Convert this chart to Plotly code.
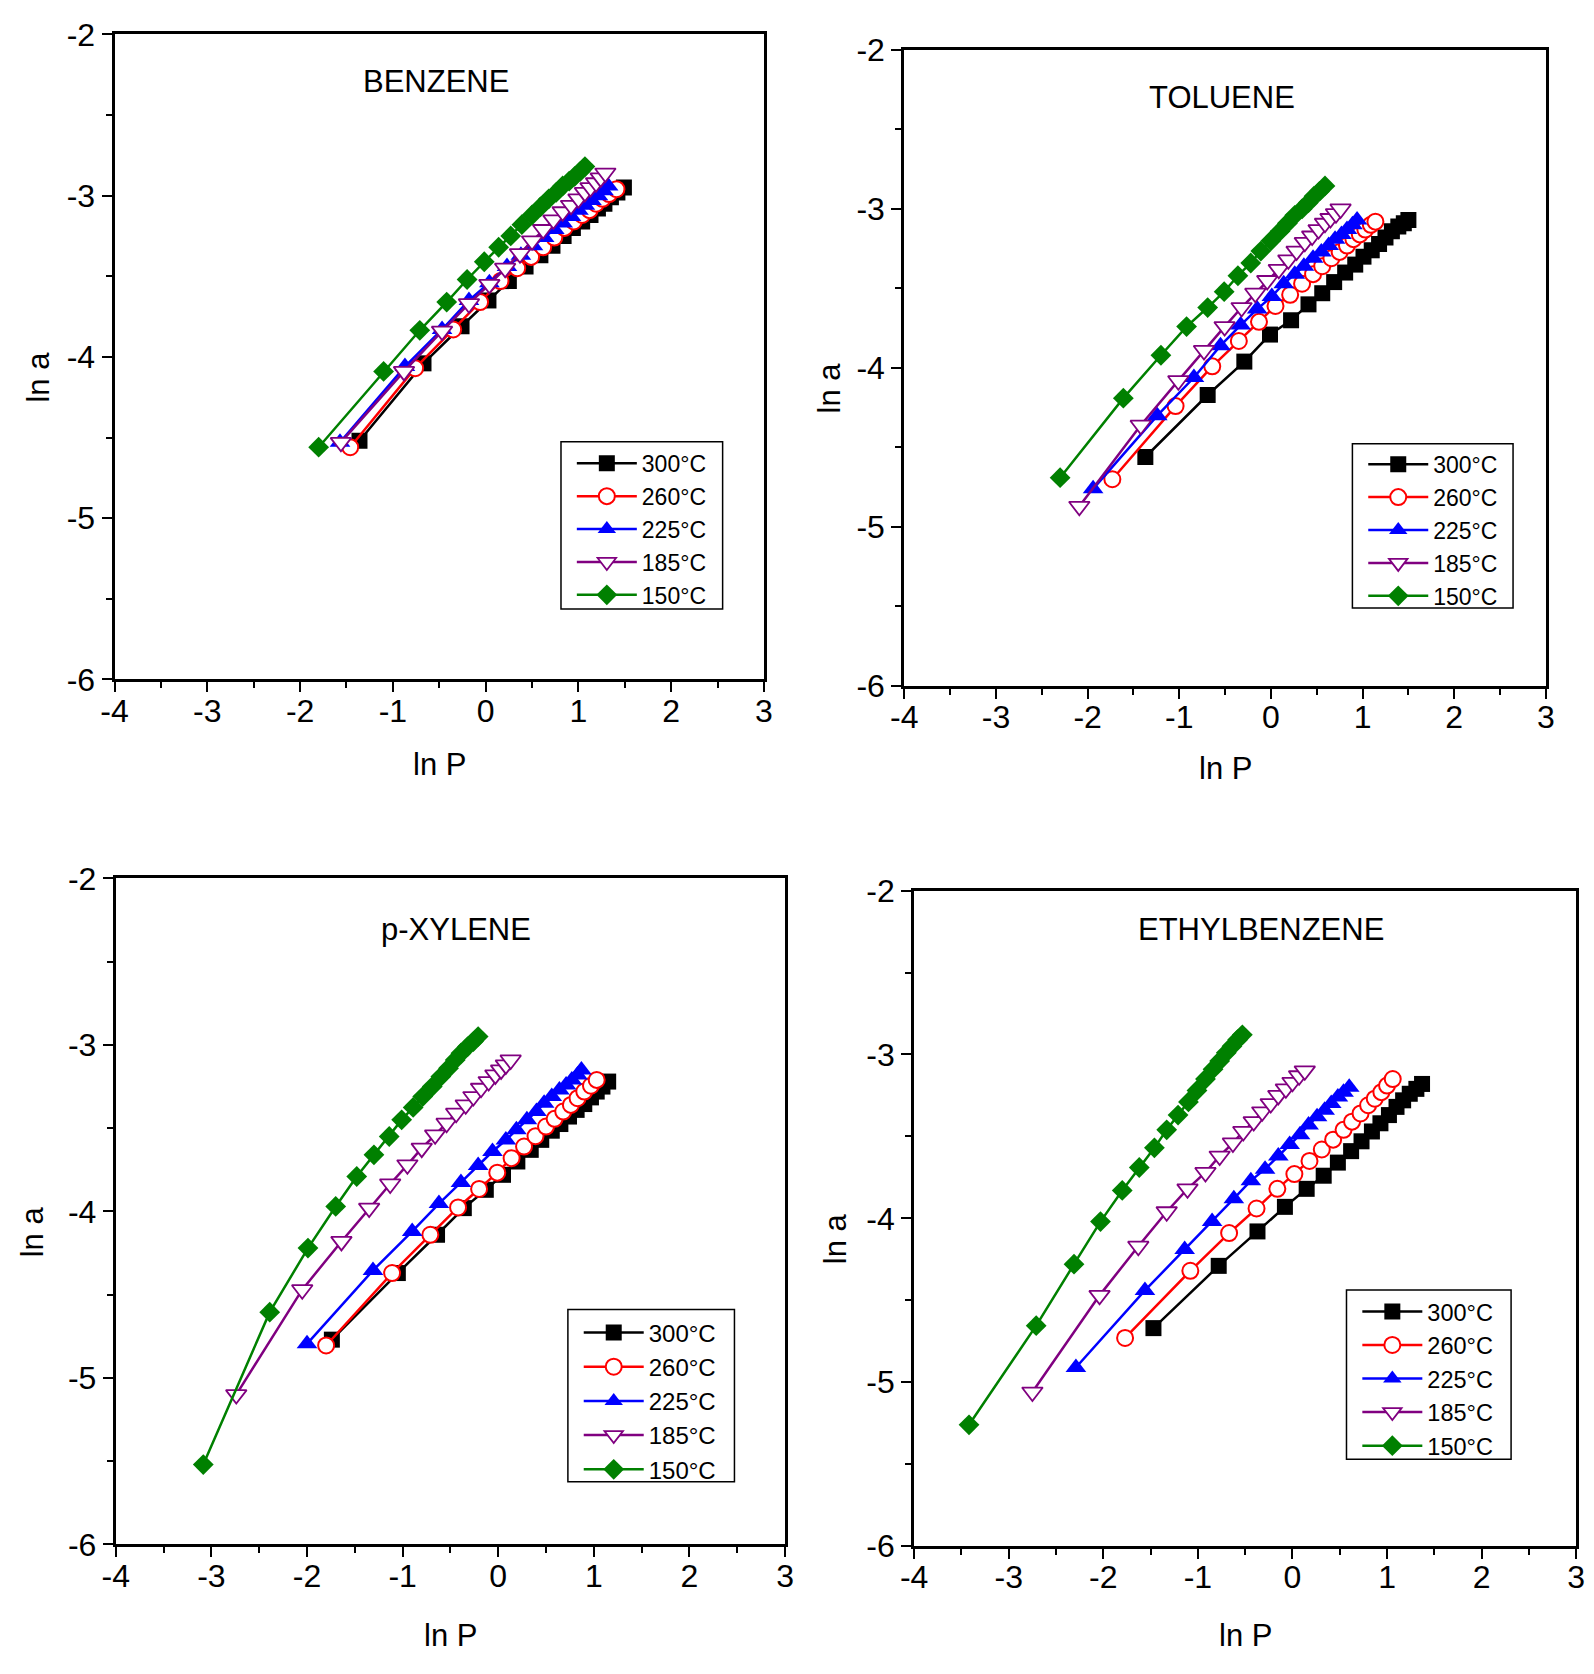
import plotly.graph_objects as go

FONT = "Liberation Sans, Arial, sans-serif"

temps = ["300°C", "260°C", "225°C", "185°C", "150°C"]
colors = ["#000000", "#FF0000", "#0000FF", "#800080", "#008000"]

x_tick_vals = [-4, -3, -2, -1, 0, 1, 2, 3]
x_tick_text = ["-4", "-3", "-2", "-1", "0", "1", "2", "3"]
y_tick_vals = [-6, -5, -4, -3, -2]
y_tick_text = ["-6", "-5", "-4", "-3", "-2"]

panel_titles = ["BENZENE", "TOLUENE", "p-XYLENE", "ETHYLBENZENE"]

# ---------------- BENZENE ----------------
bz_300_lnP = [-1.36, -0.67, -0.26, 0.03, 0.25, 0.43, 0.59, 0.72, 0.84, 0.94, 1.04, 1.13, 1.21, 1.28, 1.35, 1.42, 1.49]
bz_300_lna = [-4.52, -4.04, -3.81, -3.65, -3.53, -3.44, -3.37, -3.31, -3.25, -3.20, -3.16, -3.12, -3.08, -3.05, -3.01, -2.98, -2.95]
bz_260_lnP = [-1.46, -0.76, -0.35, -0.06, 0.16, 0.34, 0.49, 0.62, 0.74, 0.85, 0.95, 1.04, 1.12, 1.19, 1.26, 1.33, 1.41]
bz_260_lna = [-4.56, -4.07, -3.83, -3.66, -3.53, -3.45, -3.38, -3.32, -3.26, -3.20, -3.16, -3.12, -3.09, -3.05, -3.02, -2.99, -2.96]
bz_225_lnP = [-1.57, -0.87, -0.47, -0.18, 0.04, 0.23, 0.38, 0.51, 0.63, 0.74, 0.83, 0.92, 1.00, 1.07, 1.14, 1.21, 1.27, 1.32]
bz_225_lna = [-4.53, -4.06, -3.83, -3.65, -3.54, -3.44, -3.37, -3.31, -3.26, -3.21, -3.17, -3.13, -3.09, -3.06, -3.03, -3.00, -2.97, -2.94]
bz_185_lnP = [-1.56, -0.88, -0.47, -0.18, 0.04, 0.21, 0.37, 0.50, 0.62, 0.73, 0.83, 0.92, 1.00, 1.07, 1.13, 1.19, 1.24, 1.29]
bz_185_lna = [-4.53, -4.09, -3.84, -3.67, -3.55, -3.45, -3.36, -3.28, -3.21, -3.15, -3.10, -3.06, -3.02, -2.98, -2.95, -2.92, -2.89, -2.86]
bz_150_lnP = [-1.80, -1.10, -0.71, -0.42, -0.20, -0.015, 0.14, 0.27, 0.39, 0.50, 0.59, 0.68, 0.76, 0.83, 0.90, 0.96, 1.02, 1.07]
bz_150_lna = [-4.56, -4.09, -3.835, -3.66, -3.52, -3.41, -3.32, -3.25, -3.18, -3.12, -3.07, -3.02, -2.98, -2.94, -2.91, -2.88, -2.85, -2.82]

# ---------------- TOLUENE ----------------
tl_300_lnP = [-1.37, -0.69, -0.29, -0.01, 0.22, 0.41, 0.56, 0.69, 0.81, 0.92, 1.01, 1.10, 1.18, 1.25, 1.32, 1.39, 1.45, 1.50]
tl_300_lna = [-4.56, -4.17, -3.96, -3.79, -3.70, -3.60, -3.53, -3.46, -3.40, -3.35, -3.30, -3.26, -3.22, -3.18, -3.14, -3.11, -3.09, -3.07]
tl_260_lnP = [-1.73, -1.04, -0.64, -0.35, -0.13, 0.05, 0.21, 0.34, 0.46, 0.56, 0.66, 0.75, 0.83, 0.90, 0.97, 1.03, 1.09, 1.14]
tl_260_lna = [-4.70, -4.24, -3.99, -3.83, -3.71, -3.61, -3.54, -3.47, -3.41, -3.36, -3.31, -3.27, -3.23, -3.19, -3.16, -3.13, -3.10, -3.08]
tl_225_lnP = [-1.94, -1.24, -0.84, -0.55, -0.33, -0.15, 0.01, 0.14, 0.26, 0.36, 0.46, 0.55, 0.63, 0.70, 0.77, 0.83, 0.89, 0.94]
tl_225_lna = [-4.76, -4.30, -4.06, -3.86, -3.73, -3.63, -3.55, -3.47, -3.41, -3.36, -3.31, -3.27, -3.23, -3.19, -3.16, -3.13, -3.10, -3.07]
tl_185_lnP = [-2.09, -1.42, -1.01, -0.73, -0.505, -0.32, -0.17, -0.04, 0.086, 0.19, 0.28, 0.37, 0.45, 0.52, 0.59, 0.65, 0.71, 0.76]
tl_185_lna = [-4.87, -4.36, -4.08, -3.89, -3.74, -3.62, -3.53, -3.45, -3.38, -3.32, -3.265, -3.21, -3.17, -3.13, -3.09, -3.06, -3.03, -3.00]
tl_150_lnP = [-2.30, -1.61, -1.20, -0.92, -0.69, -0.51, -0.36, -0.22, -0.11, 0.00, 0.10, 0.18, 0.26, 0.34, 0.41, 0.47, 0.53, 0.59]
tl_150_lna = [-4.69, -4.19, -3.92, -3.74, -3.62, -3.52, -3.42, -3.34, -3.265, -3.20, -3.14, -3.09, -3.04, -3.00, -2.96, -2.92, -2.89, -2.855]

# ---------------- p-XYLENE ----------------
px_300_lnP = [-1.74, -1.05, -0.64, -0.36, -0.13, 0.05, 0.20, 0.34, 0.45, 0.56, 0.65, 0.74, 0.82, 0.90, 0.97, 1.03, 1.09, 1.15]
px_300_lna = [-4.77, -4.37, -4.14, -3.98, -3.87, -3.78, -3.70, -3.63, -3.57, -3.515, -3.475, -3.43, -3.39, -3.355, -3.315, -3.28, -3.25, -3.22]
px_260_lnP = [-1.80, -1.11, -0.71, -0.42, -0.20, -0.01, 0.14, 0.27, 0.39, 0.50, 0.59, 0.68, 0.76, 0.83, 0.90, 0.97, 1.03]
px_260_lna = [-4.805, -4.37, -4.14, -3.976, -3.865, -3.767, -3.68, -3.61, -3.548, -3.49, -3.444, -3.40, -3.36, -3.32, -3.28, -3.245, -3.21]
px_225_lnP = [-2.00, -1.31, -0.90, -0.62, -0.39, -0.21, -0.06, 0.08, 0.19, 0.30, 0.40, 0.48, 0.56, 0.64, 0.71, 0.77, 0.83, 0.87]
px_225_lna = [-4.795, -4.354, -4.12, -3.953, -3.826, -3.724, -3.64, -3.571, -3.51, -3.45, -3.40, -3.35, -3.31, -3.27, -3.24, -3.21, -3.18, -3.15]
px_185_lnP = [-2.74, -2.05, -1.64, -1.35, -1.13, -0.95, -0.80, -0.66, -0.54, -0.44, -0.34, -0.26, -0.18, -0.10, -0.03, 0.03, 0.08, 0.13]
px_185_lna = [-5.10, -4.47, -4.18, -3.98, -3.835, -3.72, -3.62, -3.54, -3.47, -3.41, -3.36, -3.31, -3.26, -3.22, -3.18, -3.15, -3.12, -3.09]
px_150_lnP = [-3.085, -2.39, -1.99, -1.70, -1.48, -1.30, -1.14, -1.01, -0.89, -0.79, -0.69, -0.60, -0.52, -0.45, -0.39, -0.32, -0.26, -0.21]
px_150_lna = [-5.52, -4.605, -4.22, -3.97, -3.79, -3.66, -3.55, -3.45, -3.375, -3.31, -3.25, -3.19, -3.14, -3.09, -3.05, -3.01, -2.98, -2.95]

# ---------------- ETHYLBENZENE ----------------
eb_300_lnP = [-1.47, -0.78, -0.37, -0.08, 0.15, 0.33, 0.48, 0.62, 0.73, 0.84, 0.93, 1.02, 1.10, 1.17, 1.24, 1.31, 1.37]
eb_300_lna = [-4.67, -4.29, -4.08, -3.93, -3.82, -3.74, -3.66, -3.59, -3.53, -3.47, -3.42, -3.37, -3.32, -3.28, -3.24, -3.21, -3.18]
eb_260_lnP = [-1.77, -1.08, -0.67, -0.38, -0.16, 0.02, 0.18, 0.31, 0.43, 0.54, 0.63, 0.72, 0.80, 0.87, 0.94, 1.00, 1.06]
eb_260_lna = [-4.73, -4.32, -4.09, -3.94, -3.82, -3.73, -3.65, -3.58, -3.52, -3.46, -3.41, -3.36, -3.31, -3.27, -3.23, -3.19, -3.15]
eb_225_lnP = [-2.29, -1.56, -1.14, -0.85, -0.62, -0.44, -0.29, -0.15, -0.03, 0.08, 0.17, 0.26, 0.34, 0.41, 0.48, 0.54, 0.60]
eb_225_lna = [-4.91, -4.44, -4.19, -4.02, -3.88, -3.77, -3.70, -3.62, -3.55, -3.49, -3.43, -3.38, -3.34, -3.30, -3.26, -3.23, -3.20]
eb_185_lnP = [-2.75, -2.04, -1.63, -1.33, -1.11, -0.92, -0.77, -0.63, -0.52, -0.41, -0.32, -0.23, -0.15, -0.07, 0.00, 0.07, 0.13]
eb_185_lna = [-5.06, -4.47, -4.17, -3.96, -3.82, -3.72, -3.62, -3.54, -3.47, -3.41, -3.35, -3.30, -3.25, -3.21, -3.17, -3.13, -3.10]
eb_150_lnP = [-3.42, -2.71, -2.31, -2.03, -1.80, -1.62, -1.46, -1.33, -1.21, -1.10, -1.01, -0.92, -0.84, -0.77, -0.70, -0.64, -0.58, -0.53]
eb_150_lna = [-5.26, -4.655, -4.28, -4.02, -3.83, -3.69, -3.57, -3.46, -3.37, -3.29, -3.22, -3.15, -3.09, -3.04, -2.99, -2.95, -2.91, -2.88]

panels = [
    [(bz_300_lnP, bz_300_lna), (bz_260_lnP, bz_260_lna), (bz_225_lnP, bz_225_lna), (bz_185_lnP, bz_185_lna), (bz_150_lnP, bz_150_lna)],
    [(tl_300_lnP, tl_300_lna), (tl_260_lnP, tl_260_lna), (tl_225_lnP, tl_225_lna), (tl_185_lnP, tl_185_lna), (tl_150_lnP, tl_150_lna)],
    [(px_300_lnP, px_300_lna), (px_260_lnP, px_260_lna), (px_225_lnP, px_225_lna), (px_185_lnP, px_185_lna), (px_150_lnP, px_150_lna)],
    [(eb_300_lnP, eb_300_lna), (eb_260_lnP, eb_260_lna), (eb_225_lnP, eb_225_lna), (eb_185_lnP, eb_185_lna), (eb_150_lnP, eb_150_lna)],
]


def marker_for(k):
    c = colors[k]
    if k == 0:
        return dict(symbol="square", size=16, color=c, line=dict(width=0))
    if k == 1:
        return dict(symbol="circle", size=16, color="white", line=dict(width=2, color=c))
    if k == 2:
        return dict(symbol="triangle-up", size=18, color=c, line=dict(width=0))
    if k == 3:
        return dict(symbol="triangle-down", size=18, color="white", line=dict(width=1.8, color=c))
    return dict(symbol="diamond", size=16, color=c, line=dict(width=0))


W, H = 1594, 1674

# layout geometry (paper fractions)
x_domains = [[0.0640, 0.4774], [0.5667, 0.9751], [0.0648, 0.4908], [0.5730, 0.9944]]
y_domains = [[0.5962, 0.9900], [0.5922, 0.9805], [0.0681, 0.4747], [0.0671, 0.4673]]
title_pos = [(0.2685, 0.9612), (0.7691, 0.9516), (0.2811, 0.4438), (0.7939, 0.4438)]
xlab_pos = [(0.2707, 0.5445), (0.7709, 0.5418), (0.2778, 0.0125), (0.7836, 0.0125)]
ylab_pos = [(0.0150, 0.7808), (0.5188, 0.7739), (0.0115, 0.2587), (0.5226, 0.2545)]
legend_font = [23, 23, 24, 23.5]
legend_pos = [(566 / W, 1 - 433.1 / H), (1369 / W, 1 - 434.1 / H), (573 / W, 1 - 1320.8 / H), (1363 / W, 1 - 1299.6 / H)]
legend_box = [(555, 719, 433, 604), (1358, 1521, 435, 603), (562, 731, 1320, 1496), (1352, 1519, 1300, 1473)]

fig = go.Figure()
layout = dict(
    width=W, height=H, autosize=False,
    margin=dict(l=0, r=0, t=0, b=0),
    paper_bgcolor="white", plot_bgcolor="white",
    font=dict(family=FONT, color="black"),
    annotations=[], shapes=[],
    showlegend=True,
)

for p in range(4):
    suffix = "" if p == 0 else str(p + 1)
    xref = "x" + suffix
    yref = "y" + suffix
    leg = "legend" + suffix
    for k in range(5):
        xs, ys = panels[p][k]
        fig.add_trace(go.Scatter(
            x=xs, y=ys, mode="lines+markers", name=temps[k],
            line=dict(color=colors[k], width=2.5),
            marker=marker_for(k),
            xaxis=xref, yaxis=yref, legend=leg,
        ))
    axis_common = dict(
        showline=True, linecolor="black", linewidth=3, mirror=True,
        ticks="outside", ticklen=10, tickwidth=2, tickcolor="black",
        showgrid=False, zeroline=False,
        tickfont=dict(family=FONT, size=32, color="black"),
        minor=dict(ticks="outside", ticklen=6, tickwidth=2, tickcolor="black", dtick=0.5, showgrid=False),
    )
    layout["xaxis" + suffix] = dict(
        axis_common, domain=x_domains[p], range=[-4, 3],
        tickmode="array", tickvals=x_tick_vals, ticktext=x_tick_text,
        anchor=yref, fixedrange=True, ticklabelstandoff=-9,
    )
    layout["yaxis" + suffix] = dict(
        axis_common, domain=y_domains[p], range=[-6, -2],
        tickmode="array", tickvals=y_tick_vals, ticktext=y_tick_text,
        anchor=xref, fixedrange=True,
    )
    layout[leg] = dict(
        x=legend_pos[p][0], y=legend_pos[p][1], xanchor="left", yanchor="top",
        xref="paper", yref="paper",
        bgcolor="rgba(0,0,0,0)", borderwidth=0,
        font=dict(family=FONT, size=legend_font[p], color="black"),
        itemwidth=60, tracegroupgap=0,
    )
    bx0, bx1, by0, by1 = legend_box[p]
    layout["shapes"].append(dict(
        type="rect", xref="paper", yref="paper",
        x0=bx0 / W, x1=bx1 / W, y0=1 - by1 / H, y1=1 - by0 / H,
        line=dict(color="black", width=1.5), fillcolor="white", layer="above",
    ))
    layout["annotations"].append(dict(
        text=panel_titles[p], x=title_pos[p][0], y=title_pos[p][1],
        xref="paper", yref="paper", showarrow=False,
        font=dict(family=FONT, size=31, color="black"),
        xanchor="center", yanchor="middle",
    ))
    layout["annotations"].append(dict(
        text="ln P", x=xlab_pos[p][0], y=xlab_pos[p][1],
        xref="paper", yref="paper", showarrow=False,
        font=dict(family=FONT, size=31, color="black"),
        xanchor="center", yanchor="middle",
    ))
    layout["annotations"].append(dict(
        text="ln a", x=ylab_pos[p][0], y=ylab_pos[p][1],
        xref="paper", yref="paper", showarrow=False, textangle=-90,
        font=dict(family=FONT, size=31, color="black"),
        xanchor="center", yanchor="middle",
    ))

fig.update_layout(**layout)
fig.write_html(
    "out.html",
    config={"displayModeBar": False},
    post_script="document.body.style.margin='0px';document.documentElement.style.overflow='hidden';document.body.style.overflow='hidden';",
)
